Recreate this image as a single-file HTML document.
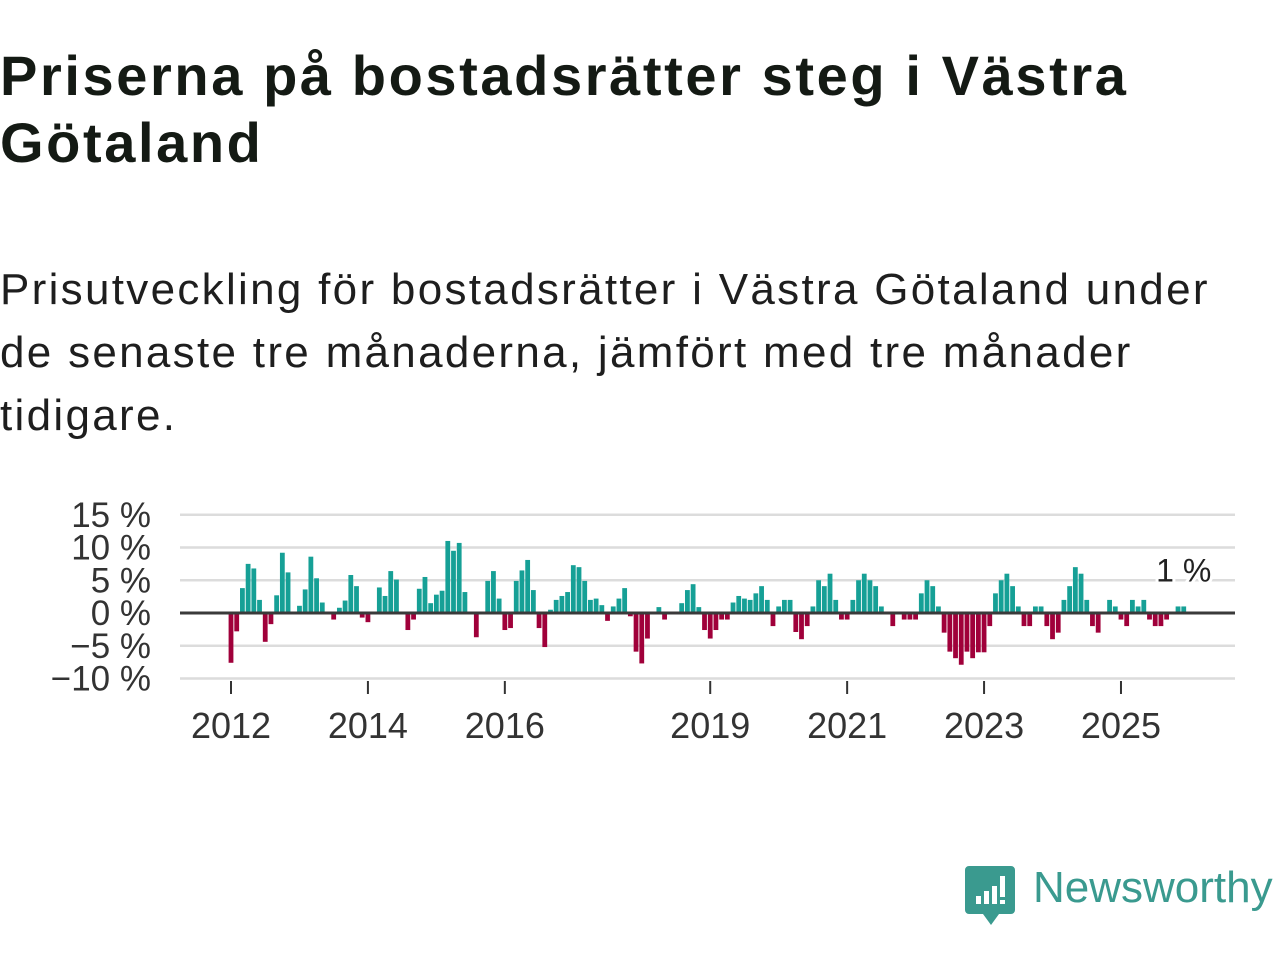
<!DOCTYPE html>
<html><head><meta charset="utf-8"><style>
body{margin:0;width:1280px;height:960px;background:#fff;font-family:"Liberation Sans",sans-serif;color:#111;overflow:hidden;position:relative}
h1{position:absolute;left:0;top:42px;margin:0;font-size:56px;line-height:67px;font-weight:bold;color:#141a14;letter-spacing:2.6px;white-space:nowrap}
p{position:absolute;left:0;top:258px;margin:0;font-size:44px;line-height:63px;color:#1e1e1e;letter-spacing:2.3px;white-space:nowrap}
svg{position:absolute;left:0;top:0}
</style></head><body>
<h1>Priserna på bostadsrätter steg i Västra<br>Götaland</h1>
<p>Prisutveckling för bostadsrätter i Västra Götaland under<br>de senaste tre månaderna, jämfört med tre månader<br>tidigare.</p>
<svg id="chart" width="1280" height="960"></svg>
<div style="position:absolute;left:965px;top:866px;width:320px;height:60px">
<svg width="50" height="60" style="left:0;top:0"><path d="M4 0h42a4 4 0 0 1 4 4v40a4 4 0 0 1-4 4H34l-8 11-8-11H4a4 4 0 0 1-4-4V4a4 4 0 0 1 4-4z" fill="#3a9a8f"/><rect x="11" y="30" width="5" height="8" fill="#fff"/><rect x="19" y="25" width="5" height="13" fill="#fff"/><rect x="27" y="20" width="5" height="18" fill="#fff"/><rect x="35" y="10" width="5" height="21" fill="#fff"/><rect x="35" y="34" width="5" height="4" fill="#fff"/></svg>
<span style="position:absolute;left:68px;top:-3px;font-size:44px;color:#3a9a8f;font-weight:500">Newsworthy</span>
</div>
<script>
const values=[-7.6,-2.8,3.8,7.5,6.8,2,-4.4,-1.7,2.7,9.2,6.2,0,1.1,3.6,8.6,5.3,1.6,0,-1,0.8,1.9,5.8,4.1,-0.7,-1.4,0,3.9,2.6,6.4,5.1,0,-2.6,-1,3.7,5.5,1.5,2.8,3.4,11,9.5,10.7,3.2,0,-3.7,0,4.9,6.4,2.2,-2.6,-2.3,4.9,6.5,8.1,3.5,-2.3,-5.2,0.5,2,2.6,3.2,7.3,7,4.9,2,2.2,1.2,-1.2,1,2.2,3.8,-0.5,-5.9,-7.7,-3.9,0,0.9,-1,0,0,1.5,3.5,4.4,0.9,-2.6,-3.9,-2.6,-1,-1,1.6,2.6,2.2,2,3,4.1,2,-2,1,2,2,-2.9,-4,-2,1,5,4.1,6,2,-1,-1,2,5,6,5,4.1,1,0,-2,0,-1,-1,-1,3,5,4.1,1,-3,-5.9,-6.9,-7.9,-5.9,-6.9,-6,-6,-2,3,5,6,4.1,1,-2,-2,1,1,-2,-4,-3,2,4.1,7,6,2,-2,-3,0,2,1,-1,-2,2,1,2,-1,-2,-2,-1,0,1,1];
const yTicks=[15,10,5,0,-5,-10];
const yTickLabels=["15 %","10 %","5 %","0 %","−5 %","−10 %"];
const xYears=[2012,2014,2016,2019,2021,2023,2025];
const startYear=2012;
const lastLabel="1 %";
const NS="http://www.w3.org/2000/svg";
const svg=document.getElementById('chart');
const y=v=>613-v*6.55;
const x=i=>231+i*5.705;
function mk(t,a){const e=document.createElementNS(NS,t);for(const k in a)e.setAttribute(k,a[k]);svg.appendChild(e);return e;}
yTicks.forEach((t,k)=>{
 if(t!==0){const g=mk('line',{x1:180,x2:1235,y1:y(t),y2:y(t),stroke:'#dcdcdc','stroke-width':2.5});
 
 }
 const tx=mk('text',{x:151,y:y(t)+12,'text-anchor':'end','font-size':35,fill:'#333','font-family':'Liberation Sans, sans-serif'});
 tx.textContent=yTickLabels[k];
 
 
});
xYears.forEach(yr=>{
 const xx=x((yr-startYear)*12);
 const l=mk('line',{x1:xx,x2:xx,y1:681,y2:694,stroke:'#333','stroke-width':2});
 
 
 const t=mk('text',{x:xx,y:738,'text-anchor':'middle','font-size':36,fill:'#333','font-family':'Liberation Sans, sans-serif'});
 t.textContent=yr;
 
 
});
values.forEach((v,i)=>{
 if(v===0)return;
 const r=mk('rect',{x:x(i)-2.4,width:4.8,y:Math.min(y(v),613),height:Math.abs(y(v)-613),fill:v>0?'#16a096':'#a0003a'});
 
 
});
const z=mk('line',{x1:180,x2:1235,y1:613,y2:613,stroke:'#3a3a3a','stroke-width':3});


const li=values.length-1;
const lb=mk('text',{x:x(li),y:y(values[li])-25,'text-anchor':'middle','font-size':32,fill:'#222',stroke:'#fff','stroke-width':6,'paint-order':'stroke','font-family':'Liberation Sans, sans-serif'});
lb.textContent=lastLabel;


</script>
</body></html>
